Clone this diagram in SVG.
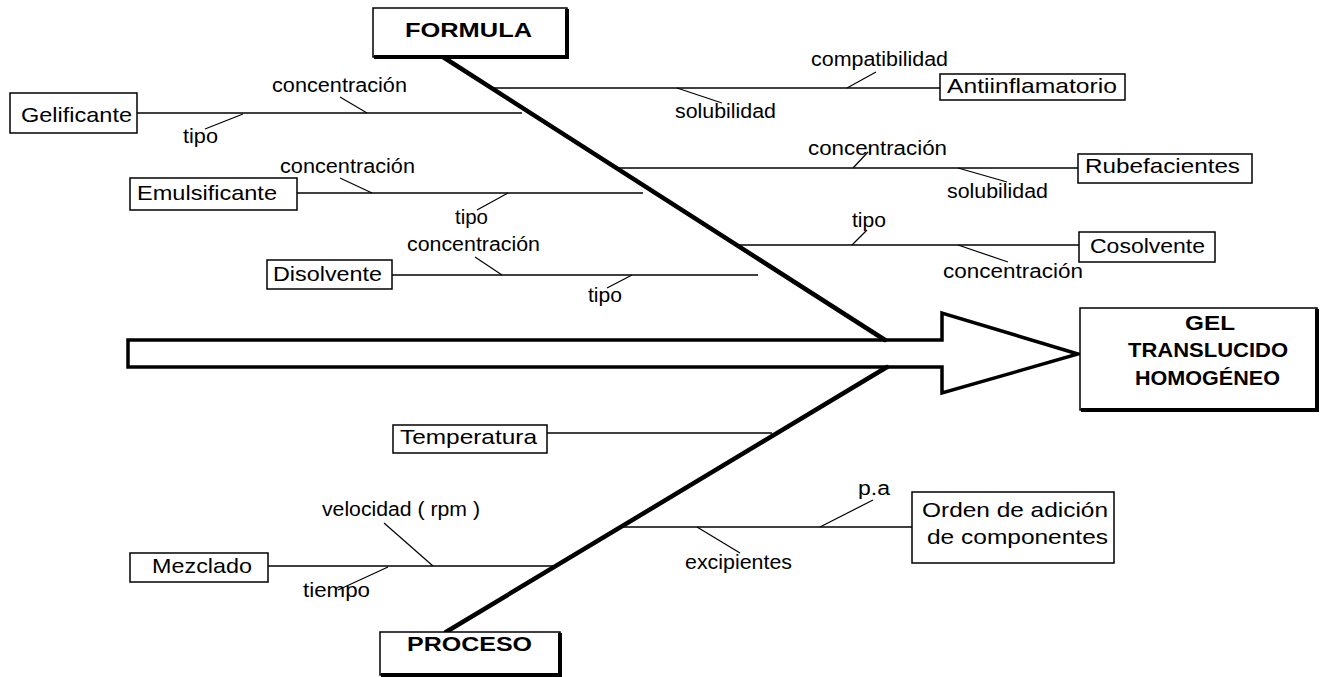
<svg xmlns="http://www.w3.org/2000/svg" width="1323" height="677" viewBox="0 0 1323 677">
<style>
  .t{font-family:"Liberation Sans",Arial,Helvetica,sans-serif;fill:#000}
  .lbl{font-size:20px}
  .nd{font-size:21px}
  .bd{font-size:20px;font-weight:bold}
  .box{fill:#fff;stroke:#000;stroke-width:1.5}
  .shadow{fill:none;stroke:#000;stroke-width:4}
  .br{stroke:#000;stroke-width:1.6;fill:none}
  .ld{stroke:#000;stroke-width:1.2;fill:none}
  .spine{stroke:#000;stroke-width:4.5;fill:none;stroke-linecap:round}
  .arrow{fill:#fff;stroke:#000;stroke-width:3.5;stroke-linejoin:miter}
</style>

<!-- main hollow arrow towards the effect -->
<g id="main-arrow">
  <path class="arrow" d="M128,340 H942 V313 L1078,354 L942,393 V367 H128 Z"/>
</g>

<g id="connectors">
  <!-- category spines -->
  <path class="spine" d="M443,57 L885,340"/>
  <path class="spine" d="M887,367 L446,632"/>

  <!-- causes on the FORMULA spine -->
  <path class="br" d="M137,113 H522"/>
  <path class="br" d="M297,193 H643"/>
  <path class="br" d="M392,275 H758"/>
  <path class="br" d="M490,88 H940"/>
  <path class="br" d="M618,168 H1078"/>
  <path class="br" d="M736,245 H1079"/>

  <!-- causes on the PROCESO spine -->
  <path class="br" d="M547,433 H772"/>
  <path class="br" d="M268,566 H556"/>
  <path class="br" d="M619,527 H912"/>

  <!-- sub-cause leaders -->
  <path class="ld" d="M340,97 L367,113"/>
  <path class="ld" d="M205,129 L243,114"/>
  <path class="ld" d="M340,178 L372,193"/>
  <path class="ld" d="M477,210 L508,193"/>
  <path class="ld" d="M475,257 L502,275"/>
  <path class="ld" d="M607,288 L632,275"/>
  <path class="ld" d="M876,72 L847,88"/>
  <path class="ld" d="M677,88 L722,103"/>
  <path class="ld" d="M868,152 L853,168"/>
  <path class="ld" d="M958,168 L1007,182"/>
  <path class="ld" d="M867,230 L852,245"/>
  <path class="ld" d="M958,245 L1008,262"/>
  <path class="ld" d="M384,523 L433,566"/>
  <path class="ld" d="M338,590 L388,567"/>
  <path class="ld" d="M873,500 L820,527"/>
  <path class="ld" d="M697,527 L740,553"/>
</g>

<g id="sub-labels" class="t lbl">
  <text x="272" y="92" textLength="135" lengthAdjust="spacingAndGlyphs">concentración</text>
  <text x="183" y="143" textLength="35" lengthAdjust="spacingAndGlyphs">tipo</text>
  <text x="280" y="173" textLength="135" lengthAdjust="spacingAndGlyphs">concentración</text>
  <text x="455" y="224" textLength="33" lengthAdjust="spacingAndGlyphs">tipo</text>
  <text x="407" y="251" textLength="133" lengthAdjust="spacingAndGlyphs">concentración</text>
  <text x="588" y="302" textLength="34" lengthAdjust="spacingAndGlyphs">tipo</text>
  <text x="811" y="66" textLength="137" lengthAdjust="spacingAndGlyphs">compatibilidad</text>
  <text x="675" y="118" textLength="101" lengthAdjust="spacingAndGlyphs">solubilidad</text>
  <text x="808" y="155" textLength="139" lengthAdjust="spacingAndGlyphs">concentración</text>
  <text x="947" y="198" textLength="101" lengthAdjust="spacingAndGlyphs">solubilidad</text>
  <text x="852" y="227" textLength="34" lengthAdjust="spacingAndGlyphs">tipo</text>
  <text x="943" y="278" textLength="140" lengthAdjust="spacingAndGlyphs">concentración</text>
  <text x="322" y="516" textLength="158" lengthAdjust="spacingAndGlyphs">velocidad ( rpm )</text>
  <text x="303" y="597" textLength="67" lengthAdjust="spacingAndGlyphs">tiempo</text>
  <text x="858" y="495" textLength="32" lengthAdjust="spacingAndGlyphs">p.a</text>
  <text x="685" y="569" textLength="107" lengthAdjust="spacingAndGlyphs">excipientes</text>
</g>

<!-- category heads -->
<g id="formula">
  <rect class="box" x="373" y="8" width="194" height="49"/>
  <path class="shadow" d="M567,9 V57 H374"/>
  <text class="t bd" x="405" y="37" textLength="127" lengthAdjust="spacingAndGlyphs">FORMULA</text>
</g>
<g id="proceso">
  <rect class="box" x="380" y="632" width="180" height="43"/>
  <path class="shadow" d="M560,633 V675 H381"/>
  <text class="t bd" x="407" y="651" textLength="125" lengthAdjust="spacingAndGlyphs">PROCESO</text>
</g>

<!-- effect -->
<g id="gel">
  <rect class="box" x="1080" y="308" width="237" height="102"/>
  <path class="shadow" d="M1317,309 V410 H1081"/>
  <text class="t bd" x="1185" y="330" textLength="50" lengthAdjust="spacingAndGlyphs">GEL</text>
  <text class="t bd" x="1128" y="357" textLength="160" lengthAdjust="spacingAndGlyphs">TRANSLUCIDO</text>
  <text class="t bd" x="1135" y="385" textLength="145" lengthAdjust="spacingAndGlyphs">HOMOGÉNEO</text>
</g>

<!-- causes -->
<g id="gelificante">
  <rect class="box" x="10" y="93" width="127" height="40"/>
  <text class="t nd" x="21" y="122" textLength="111" lengthAdjust="spacingAndGlyphs">Gelificante</text>
</g>
<g id="emulsificante">
  <rect class="box" x="130" y="178" width="167" height="32"/>
  <text class="t nd" x="137" y="200" textLength="140" lengthAdjust="spacingAndGlyphs">Emulsificante</text>
</g>
<g id="disolvente">
  <rect class="box" x="267" y="260" width="125" height="29"/>
  <text class="t nd" x="273" y="281" textLength="109" lengthAdjust="spacingAndGlyphs">Disolvente</text>
</g>
<g id="antiinflamatorio">
  <rect class="box" x="940" y="74" width="185" height="26"/>
  <text class="t nd" x="947" y="93" textLength="170" lengthAdjust="spacingAndGlyphs">Antiinflamatorio</text>
</g>
<g id="rubefacientes">
  <rect class="box" x="1078" y="154" width="174" height="29"/>
  <text class="t nd" x="1085" y="173" textLength="155" lengthAdjust="spacingAndGlyphs">Rubefacientes</text>
</g>
<g id="cosolvente">
  <rect class="box" x="1079" y="232" width="136" height="30"/>
  <text class="t nd" x="1090" y="253" textLength="115" lengthAdjust="spacingAndGlyphs">Cosolvente</text>
</g>
<g id="temperatura">
  <rect class="box" x="393" y="425" width="154" height="28"/>
  <text class="t nd" x="400" y="444" textLength="137" lengthAdjust="spacingAndGlyphs">Temperatura</text>
</g>
<g id="mezclado">
  <rect class="box" x="130" y="553" width="138" height="29"/>
  <text class="t nd" x="152" y="573" textLength="100" lengthAdjust="spacingAndGlyphs">Mezclado</text>
</g>
<g id="orden">
  <rect class="box" x="912" y="492" width="202" height="71"/>
  <text class="t nd" x="922" y="517" textLength="186" lengthAdjust="spacingAndGlyphs">Orden de adición</text>
  <text class="t nd" x="927" y="544" textLength="181" lengthAdjust="spacingAndGlyphs">de componentes</text>
</g>
</svg>
